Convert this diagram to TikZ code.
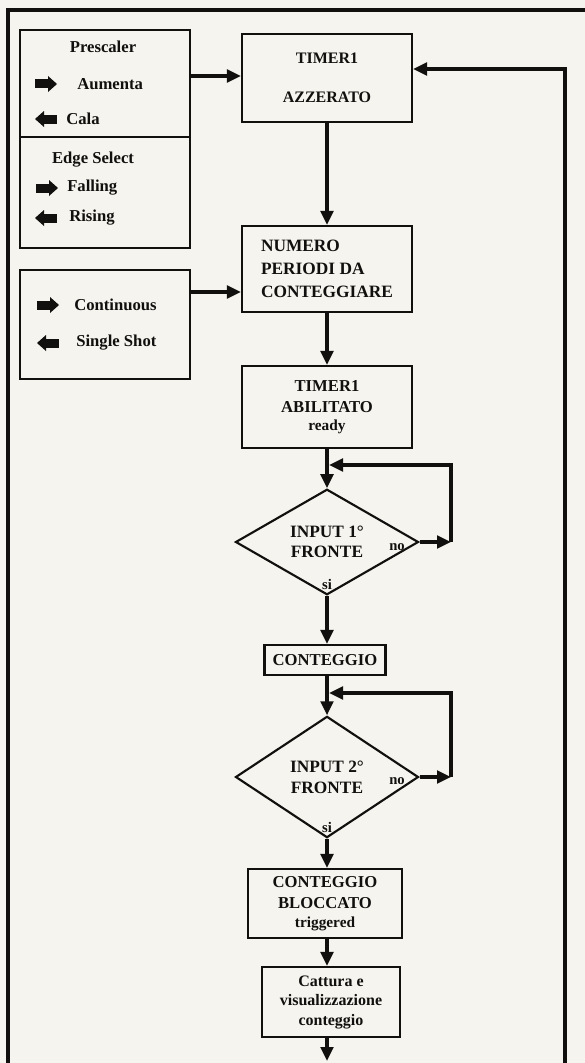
\documentclass[tikz,border=0pt]{standalone}
\usepackage{fontspec}
\setmainfont{Liberation Serif}
\usetikzlibrary{arrows.meta,shapes.geometric}
\definecolor{paper}{RGB}{246,244,238}
\definecolor{ink}{RGB}{18,16,14}
\begin{document}
\begin{tikzpicture}[x=0.75pt,y=-0.75pt,
  box/.style={draw=ink, line width=1.6pt, rectangle, inner sep=0pt, align=center, text=ink,
    font=\bfseries\fontsize{12.5}{16}\selectfont},
  dia/.style={draw=ink, line width=1.6pt, diamond, inner sep=0pt, align=center, text=ink,
    font=\bfseries\fontsize{13}{15}\selectfont},
  arr/.style={draw=ink, line width=2.3pt, -{Triangle[length=10.5pt,width=9.5pt]}},
  lbl/.style={inner sep=0pt, anchor=west, text=ink, font=\bfseries\fontsize{12.5}{15}\selectfont},
  small/.style={inner sep=0pt, text=ink, font=\bfseries\fontsize{11}{13}\selectfont},
  keyR/.pic={\fill[ink] (-11,-4.5) rectangle (3,4.5); \fill[ink] (2,-8) -- (11,0) -- (2,8) -- cycle;},
  keyL/.pic={\fill[ink] (11,-4.5) rectangle (-3,4.5); \fill[ink] (-2,-8) -- (-11,0) -- (-2,8) -- cycle;},
]
\fill[paper] (0,0) rectangle (585,1063);
\useasboundingbox (0,0) rectangle (585,1063);

% frame
\draw[ink, line width=2.6pt] (8,1063) -- (8,10) -- (585,10);

% left option boxes
\node[box, minimum width=127.5pt, minimum height=163.5pt] (pres) at (105,139) {};
\draw[ink, line width=1.6pt] (20,137) -- (190,137);
\node[lbl, anchor=center] (tpres) at (103,47) {Prescaler};
\pic at (46,84) {keyR}; \node[lbl] (taum) at (77,84) {Aumenta};
\pic at (46,119) {keyL}; \node[lbl] (tcala) at (66,119) {Cala};
\node[lbl, anchor=center] (tedge) at (93,160) {Edge Select};
\pic at (47,188) {keyR}; \node[lbl] (tfall) at (67,188) {Falling};
\pic at (46,218) {keyL}; \node[lbl] (trise) at (69,218) {Rising};

\node[box, minimum width=127.5pt, minimum height=81.75pt] (modebox) at (105,324.5) {};
\pic at (48,305) {keyR}; \node[lbl] (tcont) at (74,305) {Continuous};
\pic at (48,343) {keyL}; \node[lbl] (tsingle) at (76,343) {Single Shot};

% main flow
\node[box, minimum width=127.5pt, minimum height=66pt, font=\bfseries\fontsize{12}{16}\selectfont] (azz) at (327,78) {TIMER1\\[13pt]AZZERATO};
\node[box, minimum width=127.5pt, minimum height=64.5pt, align=left, font=\bfseries\fontsize{13}{17}\selectfont] (num) at (327,269) {NUMERO\\PERIODI DA\\CONTEGGIARE};
\node[box, minimum width=127.5pt, minimum height=61.5pt] (abil) at (327,407) {TIMER1\\ABILITATO\\[-3pt]{\fontsize{11.5}{13}\selectfont ready}};
\node[dia, minimum width=137.25pt, minimum height=79pt] (d1) at (327,542) {INPUT 1°\\FRONTE};
\node[small] (no1) at (397,547) {no};
\node[small] (si1) at (327,584) {si};
\node[box, minimum width=90.75pt, minimum height=22.5pt] (cnt) at (325,660) {CONTEGGIO};
\node[dia, minimum width=137.25pt, minimum height=91pt, font=\bfseries\fontsize{13}{16}\selectfont] (d2) at (327,777) {INPUT 2°\\FRONTE};
\node[small] (no2) at (397,781) {no};
\node[small] (si2) at (327,827) {si};
\node[box, minimum width=115.5pt, minimum height=51.75pt] (blocc) at (325,903.5) {CONTEGGIO\\BLOCCATO\\[-2pt]{\fontsize{11.5}{13}\selectfont triggered}};
\node[box, minimum width=103.5pt, minimum height=52.5pt, font=\bfseries\fontsize{12}{14.6}\selectfont] (catt) at (331,1002) {Cattura e\\visualizzazione\\conteggio};

% connectors
\draw[arr] (pres.east |- 0,76) -- (azz.west |- 0,76);
\draw[arr] (modebox.east |- 0,292) -- (num.west |- 0,292);
\draw[arr] (azz.south) -- (num.north);
\draw[arr] (num.south) -- (abil.north);
\draw[arr] (abil.south) -- (d1.north);
\draw[arr] (d1.south) -- (d1.south |- cnt.north);
\draw[arr] (d1.south |- cnt.south) -- (d2.north);
\draw[arr] (d2.south) -- (d2.south |- blocc.north);
\draw[arr] (d2.south |- blocc.south) -- (d2.south |- catt.north);
\coordinate (bot) at (327,1061);
\draw[arr] (d2.south |- catt.south) -- (bot);

\coordinate (n1) at (451,542);
\coordinate (j1) at (329,465);
\draw[arr] (d1.east) -- (n1);
\draw[arr] (n1) |- (j1);
\coordinate (n2) at (451,777);
\coordinate (j2) at (329,693);
\draw[arr] (d2.east) -- (n2);
\draw[arr] (n2) |- (j2);

\coordinate (fb) at (565,1063);
\draw[arr] (fb) |- (azz.east |- 0,69);
\end{tikzpicture}
\end{document}
